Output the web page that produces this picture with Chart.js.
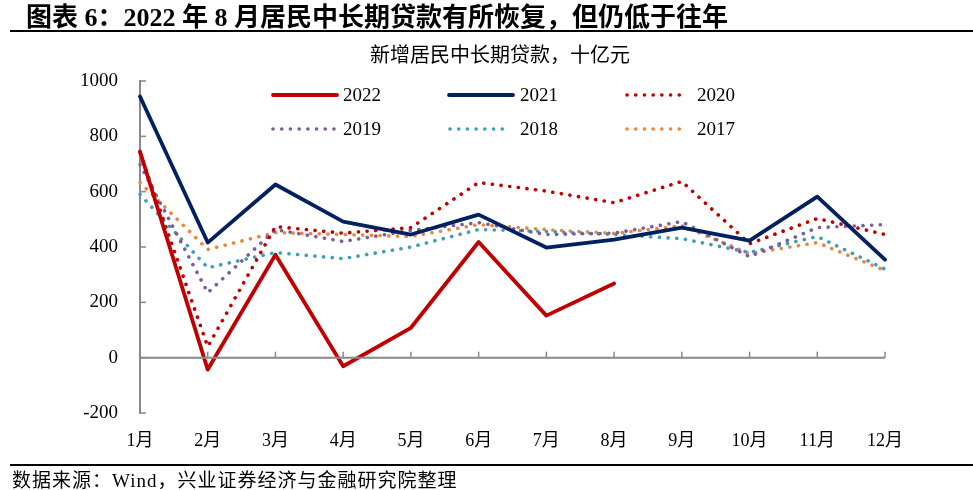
<!DOCTYPE html>
<html>
<head>
<meta charset="utf-8">
<script src="https://cdn.jsdelivr.net/npm/chart.js@4.4.0/dist/chart.umd.min.js"></script>
<style>
  body { margin: 0; background: #fff; }
  #wrap { position: relative; width: 973px; height: 490px; overflow: hidden; }
  #wrap canvas { position: absolute; left: 0; top: 0; }
  .txt { position: absolute; white-space: nowrap; color: #000; }
  #title { left: 26px; top: -4px; font: bold 26px "Liberation Serif", "Noto Sans CJK SC", serif; }
  #sub { left: 0; width: 1000px; top: 39px; text-align: center; font: 20px "Liberation Serif", "Noto Sans CJK SC", serif; }
  #src { left: 12px; top: 465px; font: 19px "Liberation Serif", "Noto Sans CJK SC", serif; letter-spacing: 1px; }
  .rule { position: absolute; left: 10px; right: 0; height: 2px; background: #000; }
</style>
</head>
<body>
<div id="wrap">
  <canvas id="lineChart"></canvas>
  <div class="txt" id="title">图表 6：2022 年 8 月居民中长期贷款有所恢复，但仍低于往年</div>
  <div class="rule" style="top:30px"></div>
  <div class="txt" id="sub">新增居民中长期贷款，十亿元</div>
  <div class="rule" style="top:464px"></div>
  <div class="txt" id="src">数据来源：Wind，兴业证券经济与金融研究院整理</div>
</div>
<script>
// 月份与各年数据（十亿元）
const months = ['1月','2月','3月','4月','5月','6月','7月','8月','9月','10月','11月','12月'];
const y2022 = [745, -43, 372, -31, 108, 418, 152, 268];
const y2021 = [944, 416, 626, 492, 445, 517, 398, 427, 470, 423, 582, 354];
const y2020 = [740, 40, 474, 450, 470, 633, 602, 560, 637, 412, 503, 445];
const y2019 = [698, 235, 463, 420, 460, 488, 445, 450, 492, 365, 470, 481];
const y2018 = [590, 325, 380, 358, 400, 463, 456, 445, 430, 380, 438, 320];
const y2017 = [633, 391, 452, 445, 438, 481, 463, 449, 477, 376, 416, 315];

const axisColor = '#898989';
const dots = [0.1, 8.6];

// 图例位置（手工摆放，两行三列）
const legendSlots = [
  { x: 273, y: 95, len: 64 },
  { x: 449, y: 95, len: 64 },
  { x: 627, y: 95, len: 56 },
  { x: 273, y: 129, len: 64 },
  { x: 450, y: 129, len: 56 },
  { x: 627, y: 129, len: 56 }
];
const legendTextX = [343, 520, 697, 343, 520, 697];

const decorPlugin = {
  id: 'decor',
  afterDatasetsDraw(chart) {
    const { ctx, chartArea, scales } = chart;
    const xs = scales.x, ys = scales.y;
    ctx.save();
    // 零轴
    const y0 = ys.getPixelForValue(0);
    ctx.strokeStyle = axisColor;
    ctx.lineWidth = 2;
    ctx.beginPath();
    ctx.moveTo(chartArea.left, y0);
    ctx.lineTo(chartArea.right, y0);
    ctx.stroke();
    // 零轴上的刻度（朝上）
    ctx.lineWidth = 1.5;
    months.forEach((m, i) => {
      const px = xs.getPixelForValue(i);
      ctx.beginPath();
      ctx.moveTo(px, y0);
      ctx.lineTo(px, y0 - 6);
      ctx.stroke();
    });
    // y 轴刻度（朝内）
    ys.ticks.forEach(t => {
      const py = ys.getPixelForValue(t.value);
      ctx.beginPath();
      ctx.moveTo(chartArea.left, py);
      ctx.lineTo(chartArea.left + 6, py);
      ctx.stroke();
    });
    // 图例
    chart.data.datasets.forEach((ds, i) => {
      const s = legendSlots[i];
      ctx.strokeStyle = ds.borderColor;
      ctx.lineWidth = ds.borderWidth;
      ctx.lineCap = 'round';
      ctx.setLineDash(ds.borderDash || []);
      ctx.beginPath();
      ctx.moveTo(s.x, s.y);
      ctx.lineTo(s.x + s.len, s.y);
      ctx.stroke();
      ctx.setLineDash([]);
      ctx.fillStyle = '#000';
      ctx.font = '19px "Liberation Serif", serif';
      ctx.textBaseline = 'middle';
      ctx.textAlign = 'left';
      ctx.fillText(ds.label, legendTextX[i], s.y + 1);
    });
    ctx.restore();
  }
};

function mkLine(label, data, color, dotted) {
  return {
    label: label,
    data: data,
    borderColor: color,
    backgroundColor: color,
    borderWidth: dotted ? 3.6 : 3.8,
    borderDash: dotted ? dots : [],
    borderCapStyle: 'round',
    borderJoinStyle: 'round',
    pointRadius: 0,
    tension: 0,
    fill: false
  };
}

const ctx = document.getElementById('lineChart').getContext('2d');
new Chart(ctx, {
  type: 'line',
  data: {
    labels: months,
    datasets: [
      mkLine('2022', y2022, '#C00000', false),
      mkLine('2021', y2021, '#002060', false),
      mkLine('2020', y2020, '#C00000', true),
      mkLine('2019', y2019, '#7B5C9C', true),
      mkLine('2018', y2018, '#3D9EB8', true),
      mkLine('2017', y2017, '#E8873D', true)
    ]
  },
  options: {
    responsive: true,
    maintainAspectRatio: false,
    animation: false,
    layout: { padding: { top: 81, bottom: 37, left: 0, right: 88 } },
    plugins: {
      legend: { display: false },
      tooltip: { enabled: false }
    },
    scales: {
      y: {
        min: -200,
        max: 1000,
        afterFit: s => { s.width = 140; },
        ticks: {
          stepSize: 200,
          padding: 22,
          color: '#000',
          callback: v => String(v),
          font: { family: '"Liberation Serif", serif', size: 19 }
        },
        grid: { display: false, drawTicks: false },
        border: { display: true, color: axisColor, width: 2 }
      },
      x: {
        offset: false,
        afterFit: s => { s.height = 40; },
        ticks: {
          padding: 17,
          maxRotation: 0,
          autoSkip: false,
          color: '#000',
          font: { family: '"Liberation Serif", "Noto Sans CJK SC", serif', size: 18 }
        },
        grid: { display: false, drawTicks: false },
        border: { display: false }
      }
    }
  },
  plugins: [decorPlugin]
});
</script>
</body>
</html>
